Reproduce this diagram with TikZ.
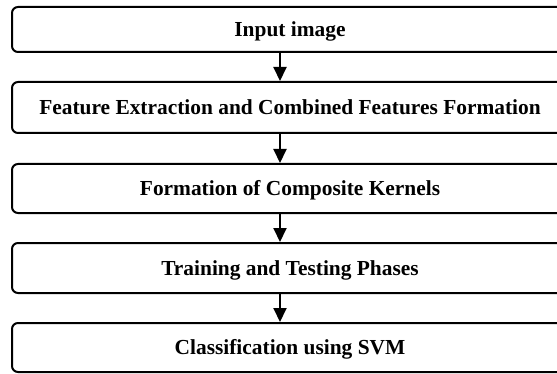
\documentclass[tikz,border=0pt]{standalone}
\usepackage{fontspec}
\setmainfont{Liberation Serif}
\usetikzlibrary{arrows.meta}
\begin{document}
\begin{tikzpicture}[x=0.5pt,y=-0.5pt,
  stagebox/.style={draw,line width=1pt,rounded corners=3pt,minimum width=278pt,
    inner sep=0pt,text height=7pt,text depth=0pt,font=\fontsize{10.7}{12}\selectfont\bfseries},
  arr/.style={line width=1pt,-{Triangle[width=6.5pt,length=7pt]}}]
\useasboundingbox (0,0) rectangle (557,374);
\clip (0,0) rectangle (557,374);
\node[stagebox,minimum height=22.5pt] (b1) at (290,29.5) {Input image};
\node[stagebox,minimum height=25.5pt] (b2) at (290,107.5) {Feature Extraction and Combined Features Formation};
\node[stagebox,minimum height=24.5pt] (b3) at (290,188.5) {Formation of Composite Kernels};
\node[stagebox,minimum height=25pt] (b4) at (290,268) {Training and Testing Phases};
\node[stagebox,minimum height=24.5pt] (b5) at (290,347.5) {Classification using SVM};
\coordinate (ax) at (280,0);
\draw[arr] (b1.south -| ax) -- (b2.north -| ax);
\draw[arr] (b2.south -| ax) -- (b3.north -| ax);
\draw[arr] (b3.south -| ax) -- (b4.north -| ax);
\draw[arr] (b4.south -| ax) -- (b5.north -| ax);
\end{tikzpicture}
\end{document}
